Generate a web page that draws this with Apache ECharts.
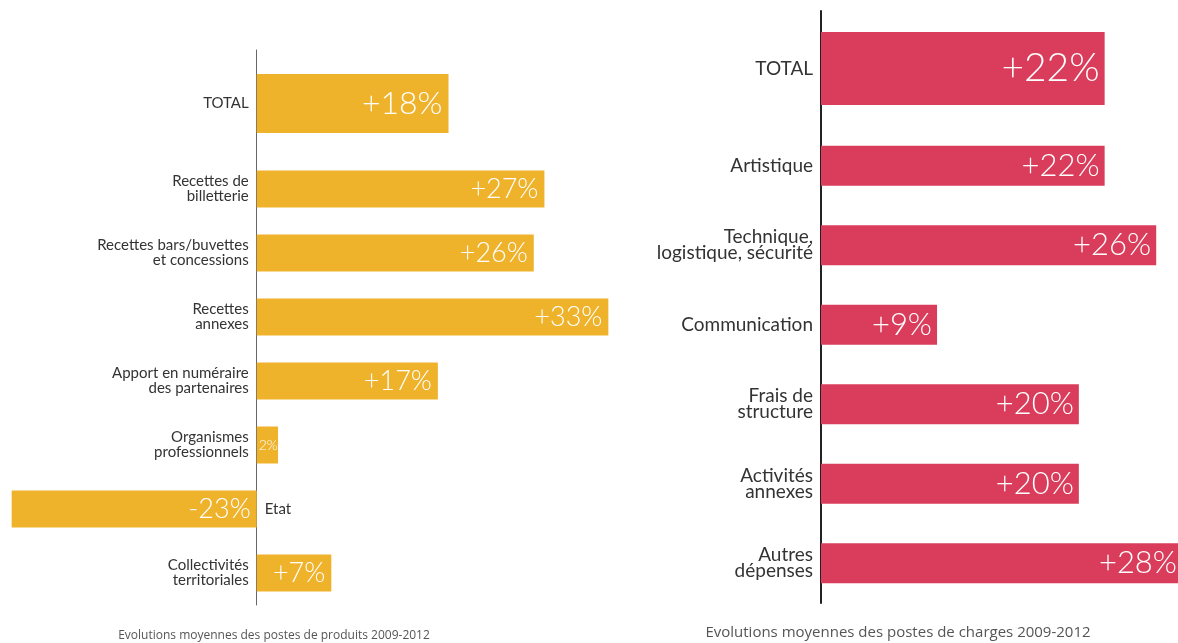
<!DOCTYPE html>
<html>
<head>
<meta charset="utf-8">
<script src="https://cdn.jsdelivr.net/npm/echarts@6/dist/echarts.min.js"></script>
<style>
  html, body { margin: 0; padding: 0; background: #fff; }
  #chart { width: 1178px; height: 643px; }
</style>
</head>
<body>
<div id="chart"></div>
<script>
// produits (left)
const produitsTotalCat = ['TOTAL'];
const produitsTotalVal = [18];
const produitsCats = ['Recettes de\nbilletterie', 'Recettes bars/buvettes\net concessions', 'Recettes\nannexes',
    'Apport en numéraire\ndes partenaires', 'Organismes\nprofessionnels', 'Etat', 'Collectivités\nterritoriales'];
const produitsVals = [27, 26, 33, 17, 2, -23, 7];

// charges (right)
const chargesTotalCat = ['TOTAL'];
const chargesTotalVal = [22];
const chargesCats = ['Artistique', 'Technique,\nlogistique, sécurité', 'Communication', 'Frais de\nstructure',
    'Activités\nannexes', 'Autres\ndépenses'];
const chargesVals = [22, 26, 9, 20, 20, 28];

const titreProduits = 'Evolutions moyennes des postes de produits 2009-2012';
const titreCharges = 'Evolutions moyennes des postes de charges 2009-2012';

const ORANGE = '#EFB22B';
const ROUGE = '#D93D5B';
const VALUE_FONT = 'Lato';

// left chart x range; the category axis sits at zero
const P_MIN = -24, P_MAX = 34, P_LEFT = 1, P_WIDTH = 618;
const P_ZERO_OFFSET = -P_WIDTH * (0 - P_MIN) / (P_MAX - P_MIN);

const fmt = v => (v > 0 ? '+' : '') + v + '%';

const chart = echarts.init(document.getElementById('chart'));

function catAxis(gridIndex, data, fontSize, lineHeight, lineColor, lineWidth, offset) {
    return {
        type: 'category', gridIndex: gridIndex, inverse: true, data: data, offset: offset || 0,
        axisTick: { show: false },
        axisLine: { onZero: false, lineStyle: { color: lineColor, width: lineWidth } },
        axisLabel: { color: '#333', fontFamily: 'Lato', fontSize: fontSize, lineHeight: lineHeight, margin: 8,
            hideOverlap: false }
    };
}

function valAxis(gridIndex, min, max) {
    return { type: 'value', gridIndex: gridIndex, min: min, max: max, show: false, splitLine: { show: false } };
}

function barSeries(axisIndex, vals, color, width, fontSize, distance) {
    return {
        type: 'bar', xAxisIndex: axisIndex, yAxisIndex: axisIndex, barWidth: width,
        itemStyle: { color: color },
        label: {
            show: true, position: 'insideRight', distance: distance, color: '#fff',
            fontFamily: VALUE_FONT, fontWeight: 300, fontSize: fontSize,
            formatter: p => fmt(p.value)
        },
        data: vals.map(v => Math.abs(v) < 5 ? {
            value: v,
            label: { position: 'insideLeft', distance: 2, fontSize: 14, formatter: p => p.value + '%' }
        } : v)
    };
}

function grid(left, width, top, height) {
    return { left: left, width: width, top: top, height: height, containLabel: false, outerBoundsMode: 'none' };
}

chart.setOption({
    animation: false,
    grid: [
        grid(P_LEFT, P_WIDTH, 50, 107),
        grid(P_LEFT, P_WIDTH, 157, 448),
        grid(821, 361, 11, 115),
        grid(821, 361, 126, 477)
    ],
    xAxis: [
        valAxis(0, P_MIN, P_MAX),
        valAxis(1, P_MIN, P_MAX),
        valAxis(2, 0, 28),
        valAxis(3, 0, 28)
    ],
    yAxis: [
        catAxis(0, produitsTotalCat, 15, 15, '#666', 1, P_ZERO_OFFSET),
        catAxis(1, produitsCats.map(c => c === 'Etat'
            ? { value: c, textStyle: { align: 'left', padding: [0, 0, 0, 16] } } : c),
            15, 15, '#666', 1, P_ZERO_OFFSET),
        catAxis(2, chargesTotalCat, 19, 16, '#222', 2),
        catAxis(3, chargesCats, 19, 16, '#222', 2)
    ],
    series: [
        barSeries(0, produitsTotalVal, ORANGE, 59, 32, 6),
        barSeries(1, produitsVals, ORANGE, 37, 27, 6),
        barSeries(2, chargesTotalVal, ROUGE, 73, 39, 5),
        barSeries(3, chargesVals, ROUGE, 40, 31, 5)
    ],
    graphic: [
        { type: 'text', x: 274, y: 636, style: { text: titreProduits, textAlign: 'center', textVerticalAlign: 'middle',
            fill: '#555', font: '12px "Open Sans"' } },
        { type: 'text', x: 898, y: 633, style: { text: titreCharges, textAlign: 'center', textVerticalAlign: 'middle',
            fill: '#555', font: '15px "Open Sans"' } }
    ]
});
</script>
</body>
</html>
